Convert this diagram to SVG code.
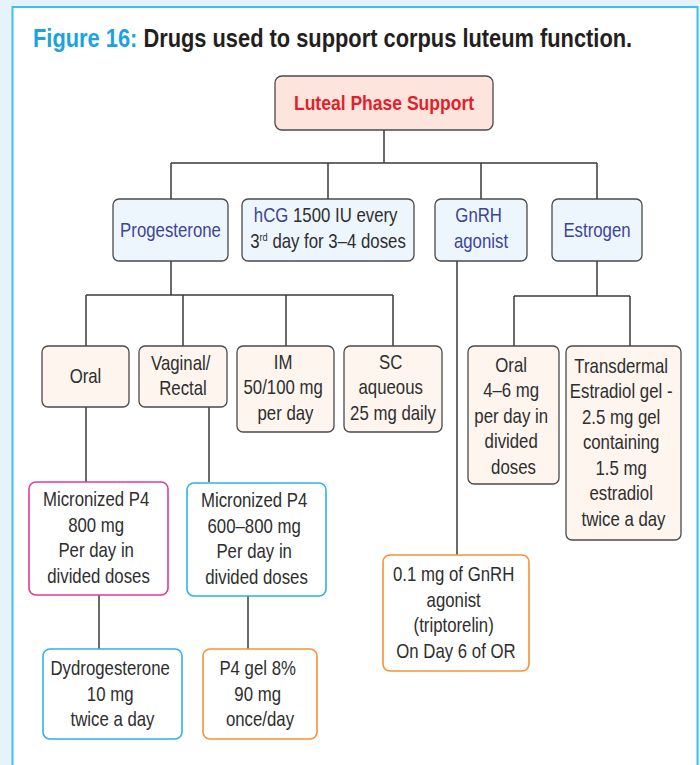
<svg xmlns="http://www.w3.org/2000/svg" width="700" height="765" viewBox="0 0 700 765">
  <style>
    .t { font-family: "Liberation Sans", Arial, sans-serif; font-size: 20px; fill: #2e2e2e; text-anchor: middle; }
    .b { fill: #3c4499; }
    .title { font-family: "Liberation Sans", Arial, sans-serif; font-size: 26px; font-weight: bold; fill: #231f20; }
    .root-t { font-family: "Liberation Sans", Arial, sans-serif; font-size: 21px; font-weight: bold; fill: #e41f2b; text-anchor: middle; }
    .box { stroke: #4a4a4a; stroke-width: 1.3; }
    .root { fill: #fde4dc; }
    .cat { fill: #eef6fd; }
    .route { fill: #fdf5ee; }
    .pink { fill: #fff; stroke: #e5399a; stroke-width: 1.6; }
    .cyan { fill: #fff; stroke: #2bb3e6; stroke-width: 1.6; }
    .orange { fill: #fff; stroke: #f39237; stroke-width: 1.6; }
    .wire { fill: none; stroke: #3a3a3a; stroke-width: 1.5; }
  </style>

  <!-- page background and figure panel -->
  <rect x="0" y="0" width="700" height="765" fill="#e6f3fa"/>
  <rect x="12.5" y="7" width="685" height="770" fill="#fff" stroke="#40bfee" stroke-width="2"/>

  <text class="title" transform="translate(33,47) scale(0.84,1)"><tspan fill="#1aa3df">Figure 16:</tspan> Drugs used to support corpus luteum function.</text>

  <!-- connectors -->
  <g id="connectors" class="wire">
    <path d="M384 130 V163 M171 163 H597 M171 163 V199 M328 163 V199 M481 163 V199 M597 163 V199"/>
    <path d="M171 261 V295 M86 295 H393 M86 295 V346 M183 295 V346 M286 295 V346 M393 295 V346"/>
    <path d="M597 261 V296 M514 296 H630 M514 296 V346 M630 296 V346"/>
    <path d="M457 261 V555"/>
    <path d="M86 407 V482 M209 407 V482"/>
    <path d="M99 595 V649 M248 596 V649"/>
  </g>

  <!-- root -->
  <g id="luteal-phase-support">
    <rect class="box root" x="275" y="76" width="218" height="54" rx="7"/>
    <text class="root-t" transform="translate(384,0) scale(0.835,1)" y="110.5">Luteal Phase Support</text>
  </g>

  <!-- categories -->
  <g id="progesterone">
    <rect class="box cat" x="113" y="199" width="115" height="62" rx="6"/>
    <text class="t b" transform="translate(170.5,0) scale(0.84,1)" y="237">Progesterone</text>
  </g>
  <g id="hcg">
    <rect class="box cat" x="242" y="199" width="172" height="62" rx="6"/>
    <text class="t" transform="translate(328,0) scale(0.84,1)">
      <tspan x="0" y="222.5"><tspan class="b">hCG</tspan> 1500 IU every</tspan>
      <tspan x="0" y="248.5">3<tspan font-size="11" dy="-7.5">rd</tspan><tspan dy="7.5"> day for 3–4 doses</tspan></tspan>
    </text>
  </g>
  <g id="gnrh-agonist">
    <rect class="box cat" x="435" y="199" width="92" height="62" rx="6"/>
    <text class="t b" transform="translate(481,0) scale(0.84,1)">
      <tspan x="0" y="222.5">GnRH</tspan>
      <tspan x="0" y="248.5">agonist</tspan>
    </text>
  </g>
  <g id="estrogen">
    <rect class="box cat" x="552" y="199" width="90" height="62" rx="6"/>
    <text class="t b" transform="translate(597,0) scale(0.84,1)" y="237">Estrogen</text>
  </g>

  <!-- progesterone routes -->
  <g id="p4-oral">
    <rect class="box route" x="42" y="346" width="87" height="61" rx="6"/>
    <text class="t" transform="translate(85.5,0) scale(0.84,1)" y="383">Oral</text>
  </g>
  <g id="p4-vaginal-rectal">
    <rect class="box route" x="139" y="346" width="88" height="61" rx="6"/>
    <text class="t" transform="translate(183,0) scale(0.84,1)">
      <tspan x="0" y="370">Vaginal/</tspan>
      <tspan x="0" y="395.5">Rectal</tspan>
    </text>
  </g>
  <g id="p4-im">
    <rect class="box route" x="237" y="346" width="97" height="86" rx="6"/>
    <text class="t" transform="translate(285.5,0) scale(0.84,1)">
      <tspan x="0" y="369">IM</tspan>
      <tspan x="0" y="394.5">50/100 mg</tspan>
      <tspan x="0" y="420">per day</tspan>
    </text>
  </g>
  <g id="p4-sc">
    <rect class="box route" x="344" y="346" width="98" height="86" rx="6"/>
    <text class="t" transform="translate(393,0) scale(0.84,1)">
      <tspan x="0" y="369">SC</tspan>
      <tspan x="0" y="394.5">aqueous</tspan>
      <tspan x="0" y="420">25 mg daily</tspan>
    </text>
  </g>

  <!-- estrogen routes -->
  <g id="e2-oral">
    <rect class="box route" x="468" y="346" width="91" height="138" rx="6"/>
    <text class="t" transform="translate(513.5,0) scale(0.84,1)">
      <tspan x="0" y="372">Oral</tspan>
      <tspan x="0" y="397.5">4–6 mg</tspan>
      <tspan x="0" y="423">per day in</tspan>
      <tspan x="0" y="448.5">divided</tspan>
      <tspan x="0" y="474">doses</tspan>
    </text>
  </g>
  <g id="e2-transdermal">
    <rect class="box route" x="566" y="346" width="115" height="194" rx="6"/>
    <text class="t" transform="translate(623.5,0) scale(0.84,1)">
      <tspan x="0" y="373">Transdermal</tspan>
      <tspan x="0" y="398.5">Estradiol gel -</tspan>
      <tspan x="0" y="424">2.5 mg gel</tspan>
      <tspan x="0" y="449.5">containing</tspan>
      <tspan x="0" y="475">1.5 mg</tspan>
      <tspan x="0" y="500.5">estradiol</tspan>
      <tspan x="0" y="526">twice a day</tspan>
    </text>
  </g>

  <!-- preparations -->
  <g id="micronized-oral">
    <rect class="pink" x="29" y="482" width="139" height="113" rx="7"/>
    <text class="t" transform="translate(98.5,0) scale(0.84,1)">
      <tspan x="0" y="506.5">Micronized P4</tspan>
      <tspan x="0" y="532">800 mg</tspan>
      <tspan x="0" y="557.5">Per day in</tspan>
      <tspan x="0" y="583">divided doses</tspan>
    </text>
  </g>
  <g id="micronized-vaginal">
    <rect class="cyan" x="187" y="483" width="139" height="113" rx="7"/>
    <text class="t" transform="translate(256.5,0) scale(0.84,1)">
      <tspan x="0" y="507.5">Micronized P4</tspan>
      <tspan x="0" y="533">600–800 mg</tspan>
      <tspan x="0" y="558.5">Per day in</tspan>
      <tspan x="0" y="584">divided doses</tspan>
    </text>
  </g>
  <g id="dydrogesterone">
    <rect class="cyan" x="43" y="649" width="139" height="90" rx="7"/>
    <text class="t" transform="translate(112.5,0) scale(0.84,1)">
      <tspan x="0" y="675.5">Dydrogesterone</tspan>
      <tspan x="0" y="701">10 mg</tspan>
      <tspan x="0" y="726.5">twice a day</tspan>
    </text>
  </g>
  <g id="p4-gel">
    <rect class="orange" x="203" y="649" width="114" height="90" rx="7"/>
    <text class="t" transform="translate(260,0) scale(0.84,1)">
      <tspan x="0" y="675.5">P4 gel 8%</tspan>
      <tspan x="0" y="701">90 mg</tspan>
      <tspan x="0" y="726.5">once/day</tspan>
    </text>
  </g>
  <g id="triptorelin">
    <rect class="orange" x="383" y="555" width="146" height="116" rx="7"/>
    <text class="t" transform="translate(456,0) scale(0.84,1)">
      <tspan x="0" y="581.5">0.1 mg of GnRH</tspan>
      <tspan x="0" y="607">agonist</tspan>
      <tspan x="0" y="632.5">(triptorelin)</tspan>
      <tspan x="0" y="658">On Day 6 of OR</tspan>
    </text>
  </g>
</svg>
